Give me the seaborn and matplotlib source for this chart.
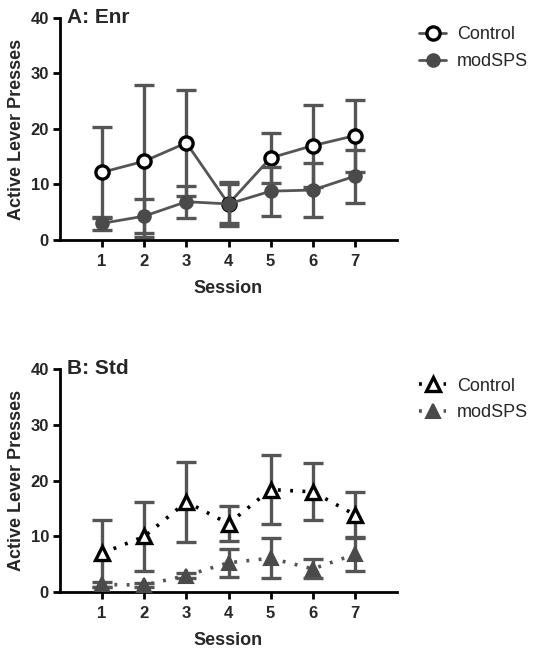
import matplotlib
matplotlib.use("Agg")
import matplotlib.pyplot as plt
import seaborn as sns
import pandas as pd
import numpy as np

sessions = [1, 2, 3, 4, 5, 6, 7]
enr_control_mean = [12.2, 14.2, 17.5, 6.5, 14.8, 17.0, 18.8]
enr_control_sem = [8.2, 13.7, 9.5, 3.9, 4.5, 7.4, 6.5]
enr_mod_mean = [3.0, 4.3, 6.9, 6.5, 8.8, 9.0, 11.5]
enr_mod_sem = [1.2, 3.0, 2.9, 3.5, 4.4, 4.9, 4.8]
std_control_mean = [7.0, 10.0, 16.2, 12.3, 18.4, 18.0, 13.9]
std_control_sem = [6.0, 6.1, 7.2, 3.2, 6.2, 5.1, 4.0]
std_mod_mean = [1.4, 1.3, 3.0, 5.3, 6.1, 4.2, 6.8]
std_mod_sem = [0.4, 0.4, 0.4, 2.5, 3.6, 1.7, 3.0]
groups = ["Control", "modSPS"]
panel_titles = ["A: Enr", "B: Std"]
y_ticks = [0, 10, 20, 30, 40]

sns.set_style("white")
plt.rcParams["font.family"] = ["Liberation Sans", "DejaVu Sans"]

fig = plt.figure(figsize=(5.38, 6.51), dpi=100)
axA = fig.add_axes([60/538, (651-240)/651, 337/538, 222/651])
axB = fig.add_axes([60/538, (651-592.3)/651, 337/538, 223.3/651])

ERR = "#555555"
GREY = "#4a4a4a"

def draw(ax, cm, cs, mm, ms, title, marker, ls_c, ls_m, line_c, line_m, msize):
    df_c = pd.DataFrame({"Session": sessions, "y": cm})
    df_m = pd.DataFrame({"Session": sessions, "y": mm})
    ax.errorbar(sessions, cm, yerr=cs, fmt="none", ecolor=ERR, elinewidth=2.4,
                capsize=7, capthick=2.4, zorder=2)
    sns.lineplot(data=df_c, x="Session", y="y", ax=ax, color=line_c, linestyle=ls_c,
                 linewidth=2.0 if ls_c == "-" else 2.6, marker=marker, markersize=msize,
                 markerfacecolor="white", markeredgecolor="black", markeredgewidth=2.4,
                 label=groups[0], zorder=3)
    ax.errorbar(sessions, mm, yerr=ms, fmt="none", ecolor=ERR, elinewidth=2.4,
                capsize=7, capthick=2.4, zorder=4)
    sns.lineplot(data=df_m, x="Session", y="y", ax=ax, color=line_m, linestyle=ls_m,
                 linewidth=2.0 if ls_m == "-" else 2.6, marker=marker, markersize=msize - 0.5,
                 markerfacecolor=GREY, markeredgecolor=GREY, markeredgewidth=1.5,
                 label=groups[1], zorder=5)
    ax.set_xlim(0, 8)
    ax.set_ylim(0, 40)
    ax.set_xticks(sessions)
    ax.set_yticks(y_ticks)
    ax.set_xticklabels([str(s) for s in sessions], fontsize=12, fontweight="bold")
    ax.set_yticklabels([str(t) for t in y_ticks], fontsize=12, fontweight="bold")
    ax.set_xlabel("Session", fontsize=13, fontweight="bold", labelpad=8)
    ax.set_ylabel("Active Lever Presses", fontsize=13, fontweight="bold", labelpad=4)
    for s in ["top", "right"]:
        ax.spines[s].set_visible(False)
    for s in ["left", "bottom"]:
        ax.spines[s].set_linewidth(2.0)
        ax.spines[s].set_color("black")
    ax.tick_params(axis="both", which="major", direction="out", length=5, width=2,
                   color="black", pad=3, left=True, bottom=True)
    ax.tick_params(axis="x", pad=5)
    ax.text(0.02, 1.0, title, transform=ax.transAxes, fontsize=15, fontweight="bold",
            va="center", ha="left")
    leg = ax.legend(loc="center left", bbox_to_anchor=(418/538, 0), bbox_transform=fig.transFigure,
                    frameon=False, fontsize=13, handlelength=1.5, handletextpad=0.6,
                    labelspacing=0.55, borderaxespad=0)
    return leg

legA = draw(axA, enr_control_mean, enr_control_sem, enr_mod_mean, enr_mod_sem,
            panel_titles[0], "o", "-", "-", ERR, ERR, 9.5)
legA.set_bbox_to_anchor((412/538, 1 - 48/651), transform=fig.transFigure)
legB = draw(axB, std_control_mean, std_control_sem, std_mod_mean, std_mod_sem,
            panel_titles[1], "^", (0, (0.8, 2.6)), (0, (0.8, 2.6)), "black", ERR, 10)
legB.set_bbox_to_anchor((412/538, 1 - 399.5/651), transform=fig.transFigure)

fig.savefig("out.png", dpi=100)
